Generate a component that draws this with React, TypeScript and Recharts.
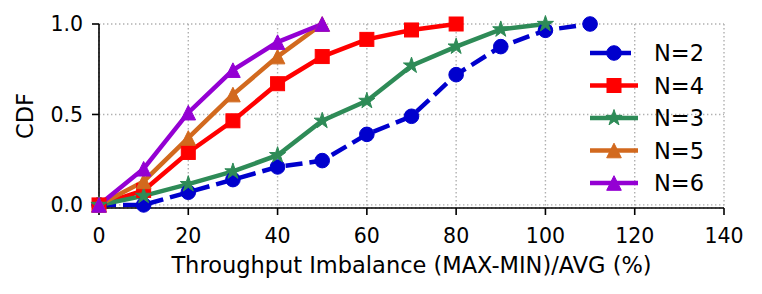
import React from "react";
import { LineChart, Line, XAxis, YAxis, CartesianGrid, Legend } from "recharts";

const xTicks = [0, 20, 40, 60, 80, 100, 120, 140];
const yTicks = [0, 0.5, 1.0];

const n2X = [0, 10, 20, 30, 40, 50, 60, 70, 80, 90, 100, 110];
const n2Y = [0, 0.0, 0.07, 0.14, 0.21, 0.245, 0.39, 0.49, 0.72, 0.875, 0.965, 1.0];
const n4X = [0, 10, 20, 30, 40, 50, 60, 70, 80];
const n4Y = [0, 0.08, 0.29, 0.465, 0.67, 0.82, 0.915, 0.967, 1.0];
const n3X = [0, 10, 20, 30, 40, 50, 60, 70, 80, 90, 100];
const n3Y = [0, 0.05, 0.115, 0.185, 0.275, 0.465, 0.575, 0.77, 0.875, 0.97, 1.0];
const n5X = [0, 10, 20, 30, 40, 50];
const n5Y = [0, 0.13, 0.37, 0.61, 0.82, 1.0];
const n6X = [0, 10, 20, 30, 40, 50];
const n6Y = [0, 0.2, 0.51, 0.745, 0.9, 1.0];

const toData = (xs: number[], ys: number[]) => xs.map((x, i) => ({ x, y: ys[i] }));

type Shape = "circle" | "square" | "star" | "triangle";

const seriesList: { name: string; data: { x: number; y: number }[]; color: string; shape: Shape; dash?: string }[] = [
  { name: "N=2", data: toData(n2X, n2Y), color: "#0000cd", shape: "circle", dash: "17 7" },
  { name: "N=4", data: toData(n4X, n4Y), color: "#ff0000", shape: "square" },
  { name: "N=3", data: toData(n3X, n3Y), color: "#2e8b57", shape: "star" },
  { name: "N=5", data: toData(n5X, n5Y), color: "#d2691e", shape: "triangle" },
  { name: "N=6", data: toData(n6X, n6Y), color: "#9400d3", shape: "triangle" },
];

const FONT = "DejaVu Sans";
const TICK_FS = 20.5;
const LABEL_FS = 22.5;

function starPath(cx: number, cy: number, R: number) {
  const r = R * 0.382;
  const pts: string[] = [];
  for (let i = 0; i < 10; i++) {
    const a = -Math.PI / 2 + (i * Math.PI) / 5;
    const rad = i % 2 === 0 ? R : r;
    pts.push(`${cx + rad * Math.cos(a)},${cy + rad * Math.sin(a)}`);
  }
  return `M${pts.join("L")}Z`;
}

function Marker({ cx, cy, shape, color }: { cx: number; cy: number; shape: Shape; color: string }) {
  if (cx == null || cy == null || isNaN(cx) || isNaN(cy)) return null;
  if (shape === "circle") return <circle cx={cx} cy={cy} r={7.3} fill={color} stroke={color} strokeWidth={1} />;
  if (shape === "square")
    return <rect x={cx - 7} y={cy - 7} width={14} height={14} fill={color} stroke={color} strokeWidth={1} />;
  if (shape === "star") return <path d={starPath(cx, cy, 8.5)} fill={color} stroke={color} strokeWidth={1} />;
  const h = 7.3;
  return (
    <path
      d={`M${cx},${cy - h}L${cx - h},${cy + h}L${cx + h},${cy + h}Z`}
      fill={color}
      stroke={color}
      strokeWidth={1}
    />
  );
}

function LegendBox() {
  const rowH = 32.5;
  return (
    <svg width={150} height={180} style={{ display: "block" }}>
      {seriesList.map((s, i) => {
        const y = 23 + i * rowH;
        return (
          <g key={s.name}>
            <line x1={10} x2={58} y1={y} y2={y} stroke={s.color} strokeWidth={4.5} strokeDasharray={s.dash} />
            <Marker cx={34} cy={y} shape={s.shape} color={s.color} />
            <text x={74} y={y + 8} fontFamily={FONT} fontSize={LABEL_FS} fill="#000">
              {s.name}
            </text>
          </g>
        );
      })}
    </svg>
  );
}

export default function App() {
  return (
    <div style={{ position: "absolute", left: 0, top: 0, background: "#fff" }}>
      <LineChart width={762} height={294} margin={{ top: 24, right: 38, left: 39, bottom: 0 }}>
        <CartesianGrid stroke="#b0b0b0" strokeWidth={1.4} strokeDasharray="1.4 2.6" />
        <XAxis
          dataKey="x"
          type="number"
          domain={[0, 140]}
          ticks={xTicks}
          allowDuplicatedCategory={false}
          height={86}
          tickSize={7}
          tickMargin={13}
          axisLine={{ stroke: "#000", strokeWidth: 1.6 }}
          tickLine={{ stroke: "#000", strokeWidth: 1.6 }}
          tick={{ fill: "#000", fontSize: TICK_FS, fontFamily: FONT }}
          interval={0}
          label={{
            value: "Throughput Imbalance (MAX-MIN)/AVG (%)",
            position: "insideBottom",
            offset: 21,
            fill: "#000",
            fontSize: LABEL_FS,
            fontFamily: FONT,
          }}
        />
        <YAxis
          type="number"
          domain={[-0.017, 1]}
          ticks={yTicks}
          width={60}
          tickSize={7}
          tickMargin={9}
          interval={0}
          tickFormatter={(v: number) => v.toFixed(1)}
          axisLine={{ stroke: "#000", strokeWidth: 1.6 }}
          tickLine={{ stroke: "#000", strokeWidth: 1.6 }}
          tick={{ fill: "#000", fontSize: TICK_FS, fontFamily: FONT }}
          label={{
            value: "CDF",
            content: (props: any) => {
              const vb = props.viewBox || {};
              const cx = 33;
              const cy = (vb.y ?? 24) + (vb.height ?? 184) / 2;
              return (
                <text
                  x={cx}
                  y={cy}
                  transform={`rotate(-90, ${cx}, ${cy})`}
                  textAnchor="middle"
                  fontFamily={FONT}
                  fontSize={LABEL_FS}
                  fill="#000"
                >
                  CDF
                </text>
              );
            },
          }}
        />
        <Legend
          layout="vertical"
          align="center"
          verticalAlign="middle"
          wrapperStyle={{ left: 580, top: 30, width: 150, height: 180 }}
          content={() => <LegendBox />}
        />
        {seriesList.map((s) => (
          <Line
            key={s.name}
            name={s.name}
            data={s.data}
            dataKey="y"
            type="linear"
            stroke={s.color}
            strokeWidth={4.5}
            strokeDasharray={s.dash}
            isAnimationActive={false}
            dot={(p: any) => <Marker key={`${s.name}-${p.index}`} cx={p.cx} cy={p.cy} shape={s.shape} color={s.color} />}
            activeDot={false}
          />
        ))}
      </LineChart>
    </div>
  );
}
